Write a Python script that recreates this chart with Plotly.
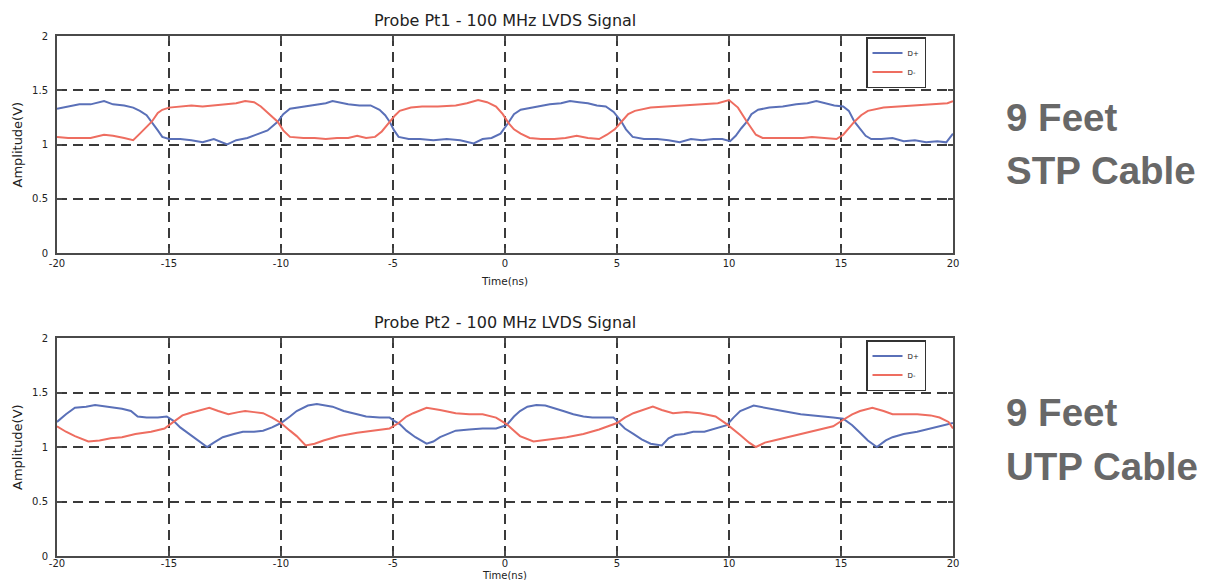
import plotly.graph_objects as go

# ---------------- data ----------------
stp_dp_t = [-20, -19.5, -19, -18.5, -17.9, -17.5, -17, -16.6, -16.3, -16.0, -15.77, -15.5, -15.3, -15.0, -14.5,
            -14.0, -13.5, -13.0, -12.4, -12.0, -11.5, -11.1, -10.6, -10.15, -9.9, -9.6, -9.0, -8.5, -8.0, -7.7,
            -7.0, -6.5, -6.0, -5.6, -5.35, -5.15, -4.95, -4.75, -4.3, -3.8, -3.2, -2.6, -2.0, -1.4, -1.0, -0.6,
            -0.2, 0.15, 0.4, 0.7, 1.2, 1.6, 2.0, 2.5, 2.9, 3.3, 3.7, 4.1, 4.5, 4.85, 5.05, 5.2, 5.4, 5.7, 6.2,
            6.8, 7.3, 7.8, 8.3, 8.8, 9.3, 9.7, 10.05, 10.3, 10.55, 10.8, 11.0, 11.3, 11.8, 12.4, 13.0, 13.5,
            13.9, 14.3, 14.7, 15.1, 15.35, 15.6, 15.85, 16.1, 16.35, 16.8, 17.3, 17.8, 18.3, 18.8, 19.3, 19.7, 20]
stp_dp_v = [1.33, 1.35, 1.37, 1.37, 1.40, 1.37, 1.36, 1.34, 1.31, 1.27, 1.21, 1.13, 1.07, 1.05, 1.05,
            1.04, 1.02, 1.05, 1.00, 1.04, 1.06, 1.09, 1.13, 1.21, 1.28, 1.33, 1.35, 1.36, 1.38, 1.40,
            1.37, 1.36, 1.36, 1.32, 1.27, 1.21, 1.13, 1.07, 1.05, 1.05, 1.04, 1.05, 1.04, 1.01, 1.05, 1.06,
            1.10, 1.20, 1.28, 1.32, 1.34, 1.35, 1.37, 1.38, 1.40, 1.39, 1.38, 1.36, 1.35, 1.30, 1.25, 1.21, 1.14, 1.07, 1.05,
            1.05, 1.04, 1.02, 1.05, 1.04, 1.05, 1.05, 1.03, 1.08, 1.15, 1.21, 1.28, 1.32, 1.34, 1.35, 1.37, 1.38,
            1.40, 1.38, 1.36, 1.35, 1.31, 1.21, 1.14, 1.08, 1.05, 1.05, 1.06, 1.03, 1.04, 1.02, 1.03, 1.02, 1.10]

stp_dm_t = [-20, -19.5, -19, -18.5, -17.9, -17.5, -17, -16.6, -16.3, -16.0, -15.77, -15.5, -15.3, -15.0, -14.5,
            -14.0, -13.5, -13.0, -12.4, -12.0, -11.6, -11.2, -10.9, -10.5, -10.15, -9.9, -9.6, -9.0, -8.5, -8.0,
            -7.5, -7.0, -6.6, -6.2, -5.8, -5.5, -5.15, -4.9, -4.7, -4.2, -3.7, -3.0, -2.2, -1.7, -1.2, -0.8,
            -0.4, -0.1, 0.15, 0.4, 0.7, 1.1, 1.6, 2.2, 2.7, 3.2, 3.7, 4.2, 4.55, 4.9, 5.2, 5.5, 5.8, 6.5, 7.2,
            8.0, 8.7, 9.5, 10.0, 10.4, 10.8, 11.2, 11.5, 12.0, 12.7, 13.3, 13.7, 14.2, 14.8, 15.1, 15.35, 15.6,
            15.9, 16.2, 16.9, 17.6, 18.4, 19.0, 19.75, 20]
stp_dm_v = [1.07, 1.06, 1.06, 1.06, 1.09, 1.08, 1.06, 1.04, 1.10, 1.16, 1.21, 1.29, 1.32, 1.34, 1.35,
            1.36, 1.35, 1.36, 1.37, 1.38, 1.40, 1.39, 1.35, 1.28, 1.21, 1.13, 1.07, 1.06, 1.06, 1.05,
            1.06, 1.06, 1.08, 1.06, 1.07, 1.12, 1.21, 1.27, 1.31, 1.34, 1.35, 1.35, 1.36, 1.38, 1.41, 1.39,
            1.35, 1.28, 1.20, 1.14, 1.10, 1.06, 1.05, 1.05, 1.06, 1.08, 1.06, 1.05, 1.09, 1.14, 1.21, 1.28, 1.31, 1.34, 1.35,
            1.36, 1.37, 1.38, 1.41, 1.34, 1.21, 1.09, 1.06, 1.06, 1.06, 1.06, 1.07, 1.06, 1.05, 1.09, 1.15, 1.21,
            1.27, 1.31, 1.34, 1.35, 1.36, 1.37, 1.38, 1.40]

utp_dp_t = [-20, -19.6, -19.2, -18.7, -18.3, -17.8, -17.1, -16.7, -16.4, -16.0, -15.5, -15.1, -14.8, -14.5,
            -14.1, -13.7, -13.3, -13.0, -12.6, -12.1, -11.7, -11.2, -10.8, -10.4, -10.0, -9.6, -9.3, -8.8, -8.4,
            -7.7, -7.2, -6.6, -6.2, -5.6, -5.15, -4.95, -4.7, -4.4, -4.0, -3.5, -3.2, -2.9, -2.2, -1.6, -1.0,
            -0.4, 0.07, 0.4, 0.67, 1.0, 1.4, 1.8, 2.15, 2.6, 3.05, 3.5, 3.9, 4.4, 4.84, 5.0, 5.35, 5.73, 6.1,
            6.5, 7.0, 7.3, 7.6, 8.0, 8.4, 8.9, 9.4, 9.9, 10.2, 10.5, 11.1, 11.7, 12.4, 13.2, 14.0, 14.65, 15.1,
            15.5, 15.85, 16.2, 16.6, 17.0, 17.3, 17.8, 18.4, 19.0, 19.4, 20]
utp_dp_v = [1.23, 1.30, 1.36, 1.37, 1.385, 1.37, 1.35, 1.33, 1.28, 1.27, 1.27, 1.28, 1.24, 1.18,
            1.12, 1.06, 1.00, 1.04, 1.09, 1.12, 1.14, 1.14, 1.15, 1.18, 1.22, 1.28, 1.33, 1.38, 1.395,
            1.37, 1.33, 1.30, 1.28, 1.27, 1.27, 1.24, 1.21, 1.15, 1.09, 1.03, 1.05, 1.09, 1.15, 1.16, 1.17,
            1.17, 1.20, 1.28, 1.33, 1.37, 1.385, 1.38, 1.36, 1.33, 1.30, 1.28, 1.27, 1.27, 1.27, 1.24, 1.17, 1.12, 1.07,
            1.03, 1.015, 1.08, 1.11, 1.12, 1.14, 1.14, 1.17, 1.20, 1.27, 1.33, 1.38, 1.36, 1.33, 1.30, 1.28, 1.27, 1.26,
            1.20, 1.13, 1.06, 1.00, 1.06, 1.09, 1.12, 1.14, 1.17, 1.19, 1.22]

utp_dm_t = [-20, -19.6, -19.2, -18.6, -18.1, -17.6, -17.1, -16.5, -15.8, -15.2, -14.8, -14.4, -14.1, -13.6,
            -13.2, -12.8, -12.35, -11.9, -11.6, -11.2, -10.8, -10.4, -10.0, -9.6, -9.3, -8.9, -8.5, -8.1, -7.4,
            -6.6, -5.9, -5.15, -4.75, -4.4, -4.1, -3.5, -2.9, -2.2, -1.6, -1.0, -0.4, 0.07, 0.4, 0.67, 1.27,
            2.0, 2.75, 3.5, 4.2, 5.0, 5.35, 5.73, 6.6, 7.0, 7.5, 8.1, 8.7, 9.4, 9.9, 10.5, 10.9, 11.2, 11.6,
            12.0, 12.6, 13.2, 13.9, 14.65, 15.1, 15.5, 15.85, 16.4, 16.9, 17.3, 17.9, 18.4, 19.0, 19.4, 19.8, 20]
utp_dm_v = [1.19, 1.14, 1.10, 1.05, 1.06, 1.08, 1.09, 1.12, 1.14, 1.17, 1.23, 1.29, 1.31, 1.34,
            1.36, 1.33, 1.30, 1.32, 1.33, 1.32, 1.31, 1.27, 1.22, 1.15, 1.10, 1.015, 1.03, 1.06, 1.10,
            1.13, 1.15, 1.17, 1.22, 1.28, 1.31, 1.36, 1.34, 1.31, 1.30, 1.30, 1.27, 1.21, 1.15, 1.10, 1.05,
            1.07, 1.09, 1.12, 1.16, 1.22, 1.27, 1.31, 1.37, 1.34, 1.31, 1.32, 1.31, 1.28, 1.21, 1.11, 1.04, 1.00, 1.04,
            1.06, 1.09, 1.12, 1.15, 1.19, 1.25, 1.30, 1.33, 1.36, 1.33, 1.30, 1.30, 1.30, 1.29, 1.27, 1.23, 1.17]

x_ticks = [-20, -15, -10, -5, 0, 5, 10, 15, 20]
y_ticks = [0, 0.5, 1, 1.5, 2]
y_tick_labels = ["0", "0.5", "1", "1.5", "2"]
titles = ["Probe Pt1 - 100 MHz LVDS Signal", "Probe Pt2 - 100 MHz LVDS Signal"]
x_title = "Time(ns)"
y_title = "Amplitude(V)"
side_labels = [("9 Feet", "STP Cable"), ("9 Feet", "UTP Cable")]

# ---------------- figure ----------------
OFF = 8                      # default page body margin
W, H = 1208 - 2 * OFF, 588 - 2 * OFF
BLUE = "#5a70b8"
RED = "#ee6d60"
TXT = "#222"
FONT = "DejaVu Sans, Liberation Sans, sans-serif"
BIG = "Liberation Sans, Arial, sans-serif"


def px(x):
    return (x - OFF) / W


def py(y):
    return 1 - (y - OFF) / H


fig = go.Figure()
fig.add_trace(go.Scatter(x=stp_dp_t, y=stp_dp_v, mode="lines", name="D+", line=dict(color=BLUE, width=2),
                         xaxis="x", yaxis="y", legend="legend"))
fig.add_trace(go.Scatter(x=stp_dm_t, y=stp_dm_v, mode="lines", name="D-", line=dict(color=RED, width=2),
                         xaxis="x", yaxis="y", legend="legend"))
fig.add_trace(go.Scatter(x=utp_dp_t, y=utp_dp_v, mode="lines", name="D+", line=dict(color=BLUE, width=2),
                         xaxis="x2", yaxis="y2", legend="legend2"))
fig.add_trace(go.Scatter(x=utp_dm_t, y=utp_dm_v, mode="lines", name="D-", line=dict(color=RED, width=2),
                         xaxis="x2", yaxis="y2", legend="legend2"))

x0, x1 = px(57), px(953)
top_dom = [py(253), py(36)]
bot_dom = [py(556), py(338)]

axis_common = dict(showline=True, mirror="ticks", linecolor="#4a4a4a", linewidth=2,
                   ticks="inside", ticklen=5, tickcolor="#4a4a4a", tickwidth=1.5, automargin=False,
                   showgrid=True, gridcolor="#3a3a3a", gridwidth=1.5, griddash="10px,6px",
                   zeroline=False, tickfont=dict(size=10, color=TXT, family=FONT))

xa = dict(axis_common, range=[-20, 20], tickvals=x_ticks, ticktext=[str(v) for v in x_ticks], domain=[x0, x1])
ya = dict(axis_common, range=[0, 2], tickvals=y_ticks, ticktext=y_tick_labels, ticklabelstandoff=5)

legend_common = dict(bgcolor="white", bordercolor="#333", borderwidth=1.5,
                     font=dict(size=7, color=TXT, family=FONT), xanchor="right", yanchor="top",
                     tracegroupgap=0, itemwidth=30, entrywidth=42)

fig.update_layout(
    width=W, height=H, margin=dict(l=0, r=0, t=0, b=0, autoexpand=False),
    paper_bgcolor="white", plot_bgcolor="white", showlegend=True,
    xaxis=dict(xa, anchor="y"),
    yaxis=dict(ya, domain=top_dom, anchor="x"),
    xaxis2=dict(xa, anchor="y2", ticklabelstandoff=-3),
    yaxis2=dict(ya, domain=bot_dom, anchor="x2"),
    legend=dict(legend_common, x=px(926), y=py(37)),
    legend2=dict(legend_common, x=px(926), y=py(340)),
)

ann = []
for title, ty, xty, xsz, (d0, d1) in ((titles[0], 21, 281, 10.5, top_dom), (titles[1], 322, 575.5, 10, bot_dom)):
    ann.append(dict(text=title, x=(x0 + x1) / 2, y=py(ty), xref="paper", yref="paper",
                    showarrow=False, font=dict(size=16, color=TXT, family=FONT), yanchor="middle"))
    ann.append(dict(text=x_title, x=(x0 + x1) / 2, y=py(xty), xref="paper", yref="paper",
                    showarrow=False, font=dict(size=xsz, color=TXT, family=FONT), yanchor="middle"))
    ann.append(dict(text=y_title, x=px(17), y=(d0 + d1) / 2, xref="paper", yref="paper", textangle=-90,
                    showarrow=False, font=dict(size=13, color=TXT, family=FONT),
                    xanchor="center", yanchor="middle"))

side_y = [(117.5, 170), (412.5, 466)]
for (l1, l2), (ya1, ya2) in zip(side_labels, side_y):
    for txt, yy in ((l1, ya1), (l2, ya2)):
        ann.append(dict(text="<b>%s</b>" % txt, x=px(1004), y=py(yy), xref="paper", yref="paper",
                        xanchor="left", yanchor="middle", showarrow=False,
                        font=dict(size=38.5, color="#686868", family=BIG)))
fig.update_layout(annotations=ann)

fig.write_html("out.html")
